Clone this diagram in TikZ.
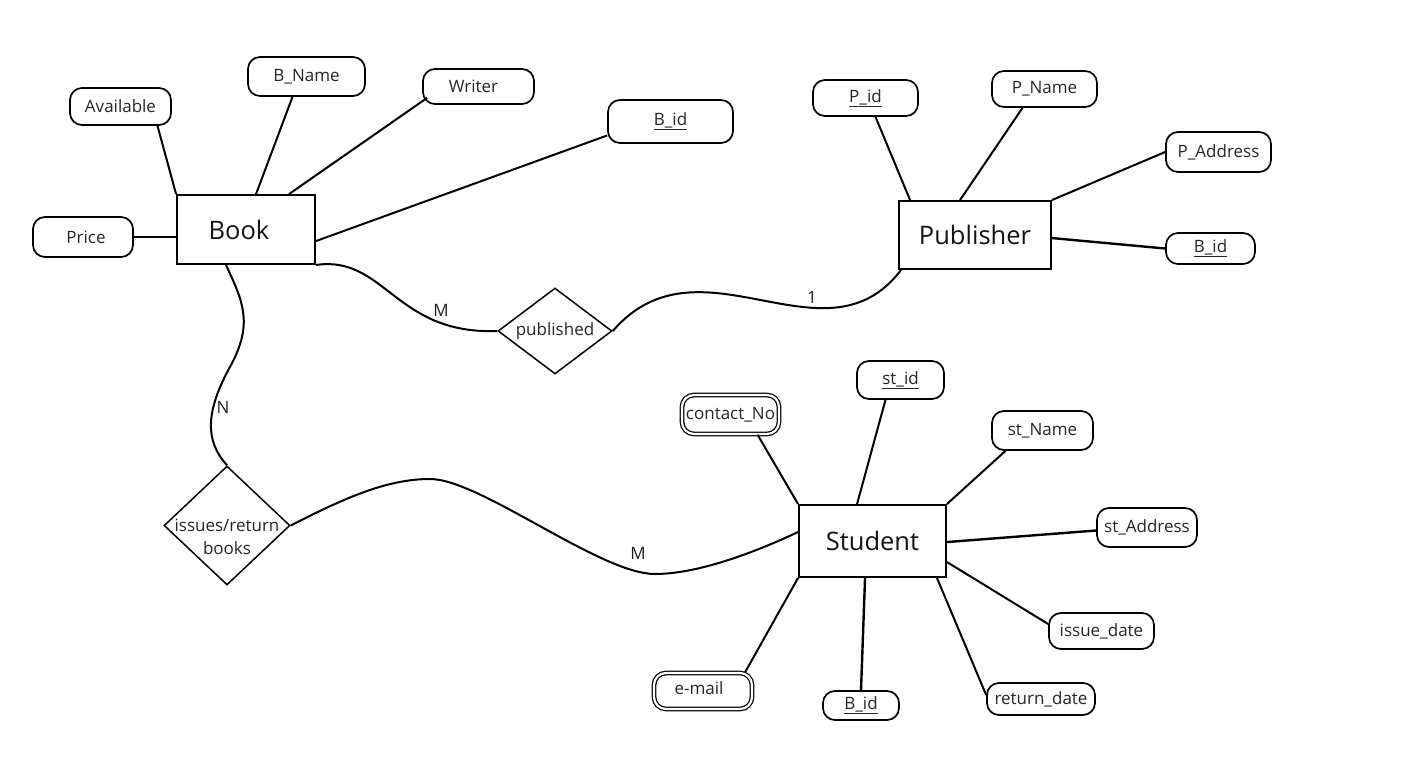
\documentclass[tikz,border=0pt]{standalone}
\usepackage{fontspec}
\setmainfont{Open Sans}
\usetikzlibrary{shapes.geometric,calc}
\begin{document}
\begin{tikzpicture}[x=1pt,y=-1pt,
  attr/.style={draw, rounded corners=12pt, line width=1.7pt, inner sep=0pt, font=\fontsize{17}{20}\selectfont, text=black!85},
  dattr/.style={attr, double, double distance=2.2pt, line width=1.25pt},
  ent/.style={draw, line width=1.9pt, inner sep=0pt, font=\fontsize{25.5}{30}\selectfont, text=black!92},
  rel/.style={draw, diamond, line width=1.5pt, inner sep=0pt, font=\fontsize{17}{20}\selectfont, text=black!85},
  link/.style={line width=2pt},
  card/.style={font=\fontsize{17}{20}\selectfont, text=black!88}]
\useasboundingbox (0,0) rectangle (1428,771);
\fill[white] (0,0) rectangle (1428,771);

% entities
\node[ent, minimum width=138pt, minimum height=69pt] (book) at (246,229.5) {Book\hspace*{14pt}};
\node[ent, minimum width=152pt, minimum height=68pt] (pub) at (975,235) {Publisher};
\node[ent, minimum width=147pt, minimum height=72pt] (stu) at (872.5,541) {Student};

% book attributes
\node[attr, minimum width=101pt, minimum height=37pt] (avail) at (120.5,106.5) {Available};
\node[attr, minimum width=117pt, minimum height=39pt] (bname) at (306.5,76.5) {B\_Name};
\node[attr, minimum width=111pt, minimum height=35pt] (writer) at (478.5,86.5) {Writer\hspace*{10pt}};
\node[attr, minimum width=100pt, minimum height=40pt] (price) at (83,237) {\hspace*{6pt}Price};
\node[attr, minimum width=125pt, minimum height=43pt] (bidb) at (670.5,121.5) {\underline{B\_id}};

% publisher attributes
\node[attr, minimum width=105pt, minimum height=36pt] (pid) at (865.5,98) {\underline{P\_id}};
\node[attr, minimum width=105pt, minimum height=36pt] (pname) at (1044.5,89) {P\_Name};
\node[attr, minimum width=105pt, minimum height=40pt] (paddr) at (1218.5,152) {P\_Address};
\node[attr, minimum width=89pt, minimum height=31pt] (bidp) at (1210.5,248.5) {\underline{B\_id}};

% student attributes
\node[attr, minimum width=87pt, minimum height=38pt] (stid) at (900.5,380) {\underline{st\_id}};
\node[dattr, minimum width=97pt, minimum height=39pt] (contact) at (730.5,414.5) {contact\_No};
\node[attr, minimum width=101pt, minimum height=39pt] (stname) at (1042.5,430.5) {st\_Name};
\node[attr, minimum width=100pt, minimum height=39pt] (staddr) at (1147,527.5) {st\_Address};
\node[attr, minimum width=105pt, minimum height=36pt] (idate) at (1101.5,631) {issue\_date};
\node[attr, minimum width=108pt, minimum height=32pt] (rdate) at (1041,699) {return\_date};
\node[attr, minimum width=76pt, minimum height=29pt] (bids) at (861,705.5) {\underline{B\_id}};
\node[dattr, minimum width=98pt, minimum height=36pt] (email) at (703,691) {\raisebox{5pt}{e-mail}\hspace*{8pt}};

% relationships
\node[rel, aspect=1.33, minimum width=114pt, minimum height=86pt] (publ) at (555,331) {\raisebox{-2pt}{published}};
\node[rel, minimum width=126pt, minimum height=119pt,
  label={[font=\fontsize{17}{23}\selectfont, text=black!85, align=center, yshift=-11pt]center:issues/return\\books}] (iss) at (227,525.5) {};

% book attribute links
\draw[link] ([xshift=37pt]avail.south) -- (book.north west);
\draw[link] ([xshift=-14pt]bname.south) -- ([xshift=80pt]book.north west);
\draw[link] ([xshift=5pt,yshift=7pt]writer.south west) -- ([xshift=113pt]book.north west);
\draw[link] ([yshift=-14pt]bidb.west) -- ([yshift=-47pt]book.north east);
\draw[line width=2.8pt] (price.east) -- (price.east -| book.west);

% publisher attribute links
\draw[link] ([xshift=10pt]pid.south) -- ([xshift=12pt]pub.north west);
\draw[link] ([xshift=-22pt]pname.south) -- ([xshift=62pt]pub.north west);
\draw[link] (paddr.west) -- (pub.north east);
\draw[line width=2.4pt] (bidp.west) -- ([yshift=-38pt]pub.north east);

% student attribute links
\draw[link] ([xshift=27pt]contact.south) -- (stu.north west);
\draw[link] ([xshift=-15pt]stid.south) -- ([xshift=59pt]stu.north west);
\draw[link] ([xshift=-37pt]stname.south) -- (stu.north east);
\draw[line width=2.4pt] ([yshift=-3pt]staddr.west) -- ([yshift=-38pt]stu.north east);
\draw[link] ([yshift=7pt]idate.west) -- ([yshift=-58pt]stu.north east);
\draw[link] ([yshift=4pt]rdate.west) -- ([xshift=-10pt]stu.south east);
\draw[line width=2.4pt] (bids.north) -- ([xshift=67pt]stu.south west);
\draw[link] ([xshift=42pt]email.north) -- (stu.south west);

% relationship links
\draw[link] (book.south east) .. controls (385,255) and (395,335) .. (publ.west);
\draw[link] (publ.east) .. controls (700,230) and (825,370) .. ([xshift=3pt]pub.south west);
\draw[link] ([xshift=-20pt]book.south) .. controls (242,300) and (254,322) .. (231,365)
   .. controls (206,410) and (204,440) .. (iss.north);
\draw[link] (iss.east) .. controls (350,495) and (390,479) .. (430,479)
   .. controls (480,479) and (600,574) .. (655,574)
   .. controls (700,574) and (760,550) .. ([yshift=9pt]stu.west);

% cardinalities
\node[card] (m1) at (441,310) {M};
\node[card] (one) at (812,297) {1};
\node[card] (n1) at (223,407) {N};
\node[card] (m2) at (638,553) {M};
\end{tikzpicture}
\end{document}
